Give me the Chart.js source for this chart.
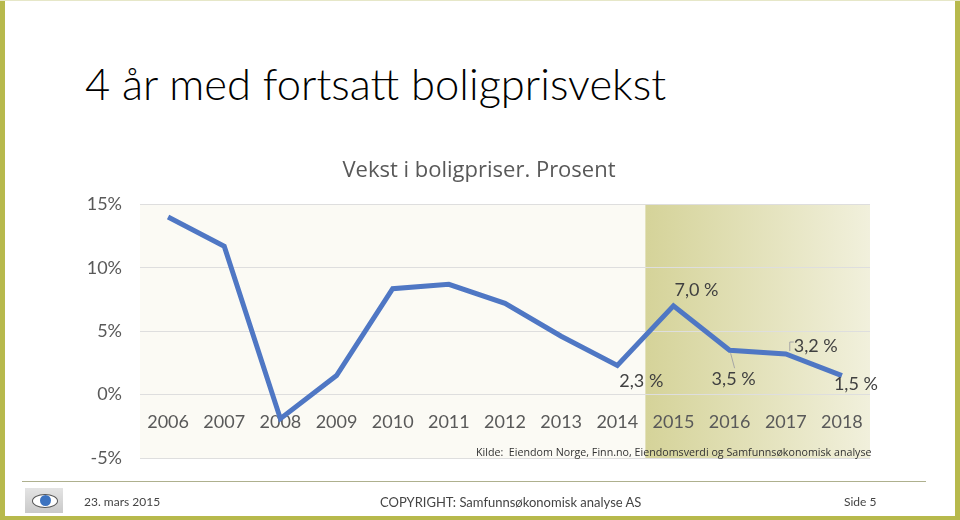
<!DOCTYPE html>
<html>
<head>
<meta charset="utf-8">
<title>Vekst i boligpriser</title>
<script src="https://cdn.jsdelivr.net/npm/chart.js@4.4.1/dist/chart.umd.min.js"></script>
<style>
  html, body { margin: 0; padding: 0; background: #fff; width: 960px; height: 520px; overflow: hidden; }
  body { position: relative; font-family: Lato, "Open Sans", sans-serif; }
  #chart { position: absolute; left: 0; top: 0; }
  .frame { position: absolute; background: #b7b94c; }
  .slide-title { position: absolute; left: 85px; top: 57px; font-size: 43.5px; font-weight: 300; color: #000; white-space: nowrap; }
  .source { position: absolute; left: 476px; top: 445px; font-size: 10.7px; color: #333; white-space: nowrap; font-family: "Open Sans", sans-serif; }
  .footer-line { position: absolute; left: 22px; top: 481px; width: 904px; height: 1px; background: #aeb08e; }
  .footer { position: absolute; top: 494px; font-size: 13px; color: #444; white-space: nowrap; }
  .logo { position: absolute; left: 25px; top: 488px; width: 38px; height: 25px; background: linear-gradient(#e4e4e4, #c9c9c9); }
  .logo .eye { position: absolute; left: 7px; top: 6px; width: 24px; height: 12px; border-radius: 50%; background: #fff; border: 1px solid #555; }
  .logo .iris { position: absolute; left: 7px; top: 0px; width: 11px; height: 11px; border-radius: 50%; background: #3c73c0; }
</style>
</head>
<body>
<div class="frame" style="left:0;top:0;width:5px;height:520px"></div>
<div class="frame" style="left:955px;top:0;width:5px;height:520px"></div>
<div class="frame" style="left:0;top:516px;width:960px;height:4px"></div>
<div class="frame" style="left:0;top:0;width:960px;height:1px;background:#e6e7c8"></div>

<div class="slide-title">4 år med fortsatt boligprisvekst</div>

<canvas id="chart" width="960" height="520"></canvas>

<div class="source">Kilde:&nbsp; Eiendom Norge, Finn.no, Eiendomsverdi og Samfunnsøkonomisk analyse</div>

<div class="footer-line"></div>
<div class="logo"><div class="eye"><div class="iris"></div></div></div>
<div class="footer" style="left:84px;font-size:12px">23. mars 2015</div>
<div class="footer" style="left:380px">COPYRIGHT: Samfunnsøkonomisk analyse AS</div>
<div class="footer" style="left:844px;font-size:12px">Side 5</div>

<script>
const years = ["2006", "2007", "2008", "2009", "2010", "2011", "2012", "2013", "2014", "2015", "2016", "2017", "2018"];
const growth = [14.0, 11.7, -1.9, 1.5, 8.35, 8.7, 7.2, 4.6, 2.3, 7.0, 3.5, 3.2, 1.5];
// years that get a value label, and where the forecast band starts
const labelledYears = ["2014", "2015", "2016", "2017", "2018"];
const forecastFrom = "2015";
const yTicks = [-5, 0, 5, 10, 15];

// label offsets from the point (px)
const labelOffsets = {
  "2014": [24, 16],
  "2015": [23, -16],
  "2016": [4, 29],
  "2017": [30, -8],
  "2018": [14, 9]
};

const backgroundPlugin = {
  id: "plotBackground",
  beforeDraw(chart) {
    const { ctx, chartArea: a, scales: { x } } = chart;
    ctx.save();
    ctx.fillStyle = "#fbfaf4";
    ctx.fillRect(a.left, a.top, a.right - a.left, a.bottom - a.top);
    const i = years.indexOf(forecastFrom);
    const start = (x.getPixelForValue(i - 1) + x.getPixelForValue(i)) / 2;
    const g = ctx.createLinearGradient(start, 0, a.right, 0);
    g.addColorStop(0, "#d5d399");
    g.addColorStop(1, "#f1f0dc");
    ctx.fillStyle = g;
    ctx.fillRect(start, a.top, a.right - start, a.bottom - a.top);
    ctx.restore();
  }
};

const valueLabels = {
  id: "valueLabels",
  afterDatasetsDraw(chart) {
    const { ctx } = chart;
    const meta = chart.getDatasetMeta(0);
    ctx.save();
    ctx.font = "18px Lato, sans-serif";
    ctx.fillStyle = "#404040";
    ctx.textAlign = "center";
    ctx.textBaseline = "middle";
    labelledYears.forEach(y => {
      const i = years.indexOf(y);
      const pt = meta.data[i];
      const off = labelOffsets[y] || [0, -16];
      const txt = growth[i].toFixed(1).replace(".", ",") + " %";
      ctx.fillText(txt, pt.x + off[0], pt.y + off[1]);
    });
    // small leader lines
    ctx.strokeStyle = "#a6a6a6";
    ctx.lineWidth = 1;
    const p16 = meta.data[years.indexOf("2016")];
    ctx.beginPath();
    ctx.moveTo(p16.x + 1, p16.y + 3);
    ctx.lineTo(p16.x + 5, p16.y + 18);
    ctx.stroke();
    const p17 = meta.data[years.indexOf("2017")];
    ctx.beginPath();
    ctx.moveTo(p17.x + 8, p17.y - 12);
    ctx.lineTo(p17.x + 4, p17.y - 12);
    ctx.lineTo(p17.x + 4, p17.y - 3);
    ctx.stroke();
    ctx.restore();
  }
};

new Chart(document.getElementById("chart"), {
  type: "line",
  data: {
    labels: years,
    datasets: [{
      data: growth,
      borderColor: "#4f77c4",
      borderWidth: 5,
      pointRadius: 0,
      tension: 0,
      fill: false
    }]
  },
  options: {
    responsive: false,
    animation: false,
    events: [],
    layout: { padding: { left: 88, right: 90, bottom: 62, top: 0 } },
    plugins: {
      legend: { display: false },
      tooltip: { enabled: false },
      title: {
        display: true,
        text: "Vekst i boligpriser. Prosent",
        color: "#595959",
        font: { family: "'Open Sans', sans-serif", size: 22, weight: "normal" },
        padding: { top: 158, bottom: 20 }
      }
    },
    scales: {
      x: {
        type: "category",
        offset: true,
        position: { y: 0 },
        grid: { display: false, drawTicks: false },
        border: { display: false },
        ticks: {
          color: "#595959",
          font: { family: "Lato, sans-serif", size: 18 },
          padding: 17,
          maxRotation: 0,
          autoSkip: false
        }
      },
      y: {
        min: yTicks[0],
        max: yTicks[yTicks.length - 1],
        afterFit(scale) { scale.width = 52; },
        afterBuildTicks(scale) { scale.ticks = yTicks.map(v => ({ value: v })); },
        grid: { color: "#dedede", drawTicks: false, lineWidth: 1 },
        border: { display: false },
        ticks: {
          color: "#595959",
          font: { family: "Lato, sans-serif", size: 18 },
          padding: 18,
          callback: v => v + "%"
        }
      }
    }
  },
  plugins: [backgroundPlugin, valueLabels]
});
</script>
</body>
</html>
